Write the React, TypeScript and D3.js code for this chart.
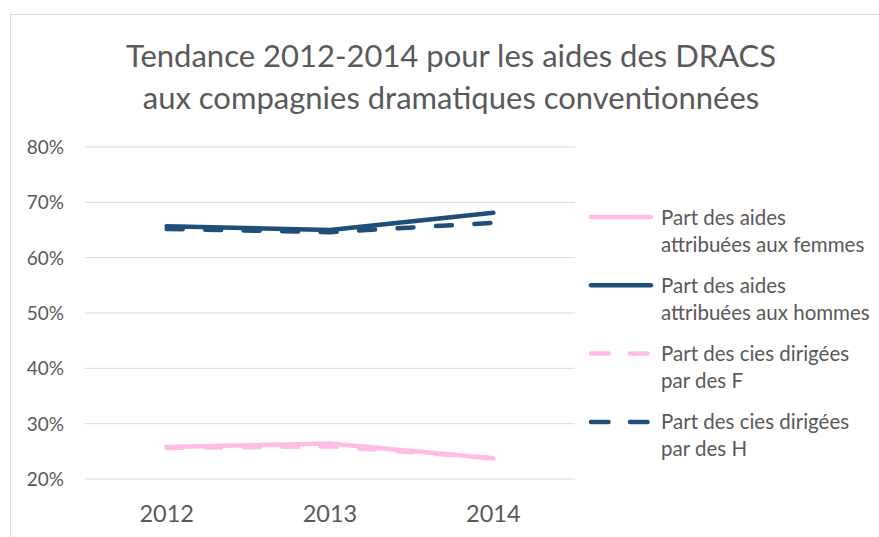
import React from "react";
import * as d3 from "d3";

const years = ["2012", "2013", "2014"];
const aidesFemmes = [0.258, 0.264, 0.237];
const aidesHommes = [0.657, 0.650, 0.681];
const ciesF = [0.256, 0.259, 0.238];
const ciesH = [0.652, 0.646, 0.663];
const yTicks = [0.2, 0.3, 0.4, 0.5, 0.6, 0.7, 0.8];
const titleLines = [
  "Tendance 2012-2014 pour les aides des DRACS",
  "aux compagnies dramatiques conventionnées",
];

const PINK = "#FFBCE4";
const NAVY = "#1F4E79";
const TEXT = "#595959";
const GRID = "#D9D9D9";
const FONT = "Lato, 'Open Sans', sans-serif";

const seriesList = [
  { name: ["Part des aides", "attribuées aux femmes"], values: aidesFemmes, color: PINK, dashed: false },
  { name: ["Part des aides", "attribuées aux hommes"], values: aidesHommes, color: NAVY, dashed: false },
  { name: ["Part des cies dirigées", "par des F"], values: ciesF, color: PINK, dashed: true },
  { name: ["Part des cies dirigées", "par des H"], values: ciesH, color: NAVY, dashed: true },
];

export default function App() {
  const W = 879, H = 537;
  const x = d3.scaleBand().domain(years).range([85, 575]);
  const y = d3.scaleLinear().domain([0.2, 0.8]).range([479, 147]);
  const line = d3
    .line<number>()
    .x((_, i) => (x(years[i]) as number) + x.bandwidth() / 2)
    .y((d) => y(d));
  const fmt = d3.format(".0%");
  const dash = "16 22.5";
  const order = [0, 1, 2, 3];
  const drawOrder = [1, 3, 0, 2];

  return (
    <svg
      width={W}
      height={H}
      style={{ position: "absolute", left: 0, top: 0, background: "#fff" }}
      fontFamily={FONT}
    >
      <rect x={0} y={0} width={W} height={H} fill="#fff" />
      <path d={`M10.5,${H} V14.5 H${W}`} fill="none" stroke={GRID} strokeWidth={1} />
      {titleLines.map((t, i) => (
        <text key={i} x={451} y={67 + i * 42} textAnchor="middle" fontSize={31} fill={TEXT}>
          {t}
        </text>
      ))}
      {yTicks.map((t) => (
        <g key={t}>
          <line x1={85} x2={575} y1={y(t)} y2={y(t)} stroke={GRID} strokeWidth={1} />
          <text x={64} y={y(t) + 7} textAnchor="end" fontSize={19} fill={TEXT}>
            {fmt(t)}
          </text>
        </g>
      ))}
      {years.map((yr) => (
        <text
          key={yr}
          x={(x(yr) as number) + x.bandwidth() / 2}
          y={522}
          textAnchor="middle"
          fontSize={23.5}
          fill={TEXT}
        >
          {yr}
        </text>
      ))}
      {drawOrder.map((k) => {
        const s = seriesList[k];
        return (
          <path
            key={k}
            d={line(s.values) || ""}
            fill="none"
            stroke={s.color}
            strokeWidth={4.5}
            strokeLinecap="round"
            strokeLinejoin="round"
            strokeDasharray={s.dashed ? dash : undefined}
          />
        );
      })}
      {order.map((k, i) => {
        const s = seriesList[k];
        const ly = 217 + i * 68.3;
        return (
          <g key={k}>
            <line
              x1={591}
              x2={651}
              y1={ly}
              y2={ly}
              stroke={s.color}
              strokeWidth={4.5}
              strokeLinecap="round"
              strokeDasharray={s.dashed ? "17.5 21.5" : undefined}
            />
            <text x={661} y={ly + 7.5} fontSize={20.5} fill={TEXT}>
              {s.name[0]}
            </text>
            <text x={661} y={ly + 34.5} fontSize={20.5} fill={TEXT}>
              {s.name[1]}
            </text>
          </g>
        );
      })}
    </svg>
  );
}
